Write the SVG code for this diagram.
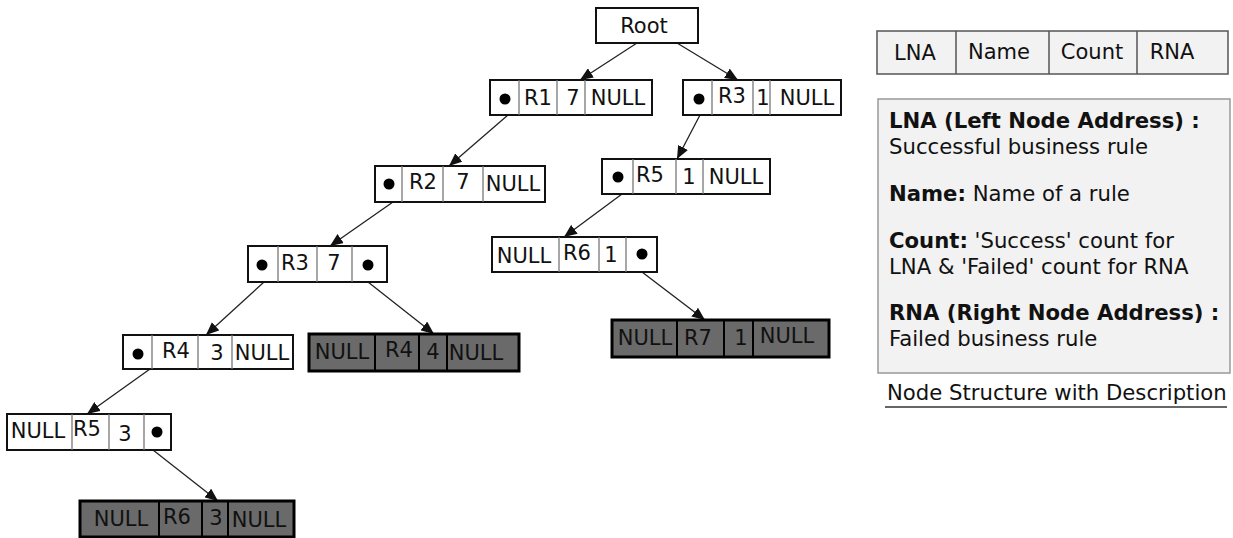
<svg xmlns="http://www.w3.org/2000/svg" width="1233" height="538" viewBox="0 0 1233 538">
<defs>
<marker id="ah" markerUnits="userSpaceOnUse" markerWidth="14" markerHeight="11" refX="13" refY="5.5" orient="auto">
<path d="M0,0 L13,5.5 L0,11 z" fill="#111"/>
</marker>
</defs>
<style>
text{font-family:"DejaVu Sans","Verdana",sans-serif;fill:#111}
.t{font-size:21px;text-anchor:middle}
.w{fill:#fff;stroke:#111;stroke-width:2}
.g{fill:#6a6a6a;stroke:#000;stroke-width:3}
.dw{stroke:#777;stroke-width:1.3}
.dg{stroke:#000;stroke-width:2}
.dot{fill:#000}
.c{stroke:#222;stroke-width:1.3;fill:none;marker-end:url(#ah)}
.leg{fill:#f2f2f2;stroke:#555;stroke-width:1.5}
.d{font-size:21.2px}
.b{font-weight:bold}
</style>

<g id="connectors">
<line class="c" x1="637" y1="43" x2="580" y2="80"/>
<line class="c" x1="677" y1="43" x2="738" y2="80"/>
<line class="c" x1="508" y1="115" x2="449" y2="166"/>
<line class="c" x1="700" y1="115" x2="677" y2="159"/>
<line class="c" x1="393" y1="202" x2="330" y2="246"/>
<line class="c" x1="622" y1="194" x2="564" y2="237"/>
<line class="c" x1="642" y1="272" x2="705" y2="320"/>
<line class="c" x1="264" y1="282" x2="206" y2="335"/>
<line class="c" x1="368" y1="282" x2="434" y2="334"/>
<line class="c" x1="150" y1="369" x2="87" y2="414"/>
<line class="c" x1="153" y1="450" x2="218" y2="501"/>
</g>

<g id="root">
<rect x="596" y="8" width="102" height="35" class="w" stroke-width="1.5"/>
<text class="t" x="644" y="33">Root</text>
</g>

<g id="r1">
<rect x="490" y="80" width="162" height="35" class="w"/>
<line class="dw" x1="519" y1="80" x2="519" y2="115"/>
<line class="dw" x1="557" y1="80" x2="557" y2="115"/>
<line class="dw" x1="585" y1="80" x2="585" y2="115"/>
<circle class="dot" cx="505" cy="99" r="5.5"/>
<text class="t" x="538" y="105">R1</text>
<text class="t" x="573" y="105">7</text>
<text class="t" x="618" y="105">NULL</text>
</g>

<g id="r3top">
<rect x="683" y="80" width="158" height="35" class="w"/>
<line class="dw" x1="712" y1="80" x2="712" y2="115"/>
<line class="dw" x1="753" y1="80" x2="753" y2="115"/>
<line class="dw" x1="770" y1="80" x2="770" y2="115"/>
<circle class="dot" cx="699" cy="99" r="5.5"/>
<text class="t" x="732" y="103">R3</text>
<text class="t" x="763" y="105">1</text>
<text class="t" x="807" y="105">NULL</text>
</g>

<g id="r2">
<rect x="375" y="166" width="170" height="36" class="w"/>
<line class="dw" x1="402" y1="166" x2="402" y2="202"/>
<line class="dw" x1="443" y1="166" x2="443" y2="202"/>
<line class="dw" x1="483" y1="166" x2="483" y2="202"/>
<circle class="dot" cx="389" cy="184" r="5.5"/>
<text class="t" x="423" y="189">R2</text>
<text class="t" x="463" y="189">7</text>
<text class="t" x="513" y="191">NULL</text>
</g>

<g id="r5right">
<rect x="602" y="159" width="168" height="35" class="w"/>
<line class="dw" x1="633" y1="159" x2="633" y2="194"/>
<line class="dw" x1="676" y1="159" x2="676" y2="194"/>
<line class="dw" x1="703" y1="159" x2="703" y2="194"/>
<circle class="dot" cx="618" cy="177" r="5.5"/>
<text class="t" x="650" y="182">R5</text>
<text class="t" x="689" y="184">1</text>
<text class="t" x="736" y="184">NULL</text>
</g>

<g id="r6right">
<rect x="492" y="237" width="165" height="35" class="w"/>
<line class="dw" x1="559" y1="237" x2="559" y2="272"/>
<line class="dw" x1="599" y1="237" x2="599" y2="272"/>
<line class="dw" x1="626" y1="237" x2="626" y2="272"/>
<circle class="dot" cx="642" cy="254" r="5.5"/>
<text class="t" x="524" y="263">NULL</text>
<text class="t" x="577" y="260">R6</text>
<text class="t" x="611" y="262">1</text>
</g>

<g id="r7">
<rect x="612" y="320" width="217" height="37" class="g"/>
<line class="dg" x1="677" y1="320" x2="677" y2="357"/>
<line class="dg" x1="724" y1="320" x2="724" y2="357"/>
<line class="dg" x1="753" y1="320" x2="753" y2="357"/>
<text class="t" x="645" y="345">NULL</text>
<text class="t" x="698" y="345">R7</text>
<text class="t" x="741" y="345">1</text>
<text class="t" x="787" y="343">NULL</text>
</g>

<g id="r3left">
<rect x="248" y="246" width="139" height="36" class="w"/>
<line class="dw" x1="278" y1="246" x2="278" y2="282"/>
<line class="dw" x1="317" y1="246" x2="317" y2="282"/>
<line class="dw" x1="352" y1="246" x2="352" y2="282"/>
<circle class="dot" cx="262" cy="265" r="5.5"/>
<text class="t" x="295" y="270">R3</text>
<text class="t" x="334" y="270">7</text>
<circle class="dot" cx="368" cy="265" r="5.5"/>
</g>

<g id="r4left">
<rect x="123" y="335" width="170" height="34" class="w"/>
<line class="dw" x1="152" y1="335" x2="152" y2="369"/>
<line class="dw" x1="198" y1="335" x2="198" y2="369"/>
<line class="dw" x1="232" y1="335" x2="232" y2="369"/>
<circle class="dot" cx="138" cy="354" r="5.5"/>
<text class="t" x="176" y="358">R4</text>
<text class="t" x="217" y="360">3</text>
<text class="t" x="262" y="360">NULL</text>
</g>

<g id="r4gray">
<rect x="309" y="334" width="210" height="37" class="g"/>
<line class="dg" x1="375" y1="334" x2="375" y2="371"/>
<line class="dg" x1="419" y1="334" x2="419" y2="371"/>
<line class="dg" x1="447" y1="334" x2="447" y2="371"/>
<text class="t" x="342" y="359">NULL</text>
<text class="t" x="399" y="357">R4</text>
<text class="t" x="433" y="359">4</text>
<text class="t" x="476" y="360">NULL</text>
</g>

<g id="r5left">
<rect x="7" y="414" width="164" height="36" class="w" stroke-width="1.5"/>
<line class="dw" x1="72" y1="414" x2="72" y2="450"/>
<line class="dw" x1="109" y1="414" x2="109" y2="450"/>
<line class="dw" x1="144" y1="414" x2="144" y2="450"/>
<text class="t" x="38" y="438">NULL</text>
<text class="t" x="87" y="436">R5</text>
<text class="t" x="125" y="441">3</text>
<circle class="dot" cx="157" cy="432" r="5.5"/>
</g>

<g id="r6bottom">
<rect x="80" y="501" width="214" height="36" class="g"/>
<line class="dg" x1="159" y1="501" x2="159" y2="537"/>
<line class="dg" x1="202" y1="501" x2="202" y2="537"/>
<line class="dg" x1="228" y1="501" x2="228" y2="537"/>
<text class="t" x="121" y="526">NULL</text>
<text class="t" x="177" y="524">R6</text>
<text class="t" x="216" y="525">3</text>
<text class="t" x="259" y="527">NULL</text>
</g>

<g id="legend-table">
<rect x="877" y="31" width="351" height="43" class="leg"/>
<line x1="956" y1="31" x2="956" y2="74" stroke="#555" stroke-width="1.5"/>
<line x1="1049" y1="31" x2="1049" y2="74" stroke="#555" stroke-width="1.5"/>
<line x1="1137" y1="31" x2="1137" y2="74" stroke="#555" stroke-width="1.5"/>
<text class="t" x="915" y="60">LNA</text>
<text class="t" x="999" y="59">Name</text>
<text class="t" x="1092" y="59">Count</text>
<text class="t" x="1172" y="59">RNA</text>
</g>

<g id="description">
<rect x="878" y="99" width="352" height="274" fill="#f2f2f2" stroke="#999" stroke-width="1.5"/>
<text class="d b" x="889" y="128">LNA (Left Node Address) :</text>
<text class="d" x="889" y="154">Successful business rule</text>
<text class="d" x="889" y="201"><tspan class="b">Name:</tspan> Name of a rule</text>
<text class="d" x="889" y="248"><tspan class="b">Count:</tspan> 'Success' count for</text>
<text class="d" x="889" y="274">LNA &amp; 'Failed' count for RNA</text>
<text class="d b" x="889" y="320">RNA (Right Node Address) :</text>
<text class="d" x="889" y="346">Failed business rule</text>
</g>

<g id="caption">
<text class="d" x="887" y="400">Node Structure with Description</text>
<line x1="885" y1="407" x2="1227" y2="407" stroke="#333" stroke-width="1.5"/>
</g>
</svg>
